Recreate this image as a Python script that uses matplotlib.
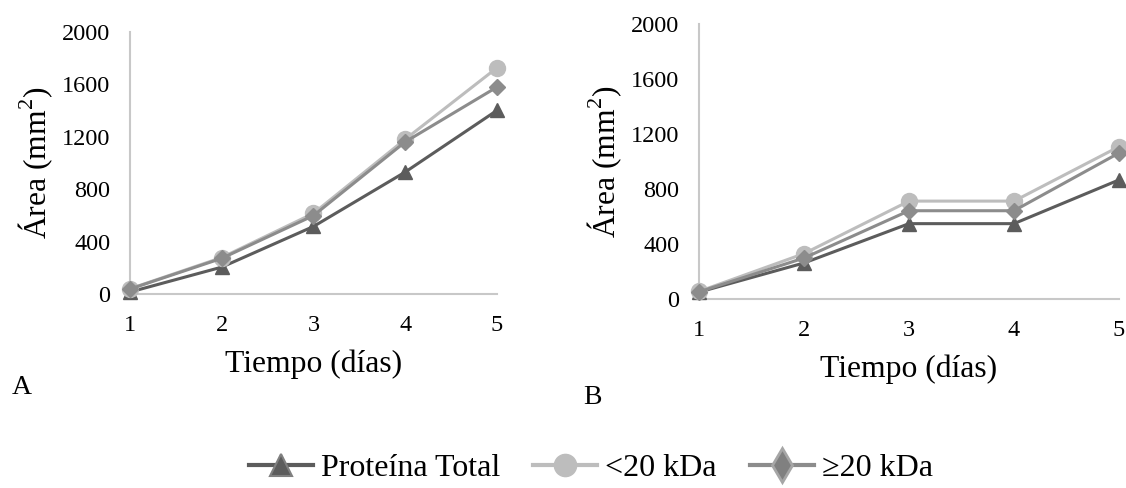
import matplotlib
matplotlib.use("Agg")
import matplotlib.pyplot as plt
from matplotlib.lines import Line2D

plt.rcParams['font.family'] = ['Liberation Serif', 'DejaVu Serif']
plt.rcParams['mathtext.fontset'] = 'custom'
plt.rcParams['mathtext.rm'] = 'Liberation Serif'

days = [1, 2, 3, 4, 5]
yticks = [0, 400, 800, 1200, 1600, 2000]

# Panel A
a_total = [15, 205, 515, 930, 1400]
a_lt20 = [40, 278, 615, 1180, 1725]
a_ge20 = [38, 272, 598, 1160, 1578]

# Panel B
b_total = [50, 262, 548, 548, 866]
b_lt20 = [55, 330, 712, 712, 1108]
b_ge20 = [52, 298, 642, 642, 1062]

labels = ["Proteína Total", "<20 kDa", "\u226520 kDa"]

c_total = "#5c5c5c"
c_lt20 = "#bdbdbd"
c_ge20 = "#8c8c8c"

W, H = 1126, 488
fig = plt.figure(figsize=(W / 100, H / 100), dpi=100)

def make_ax(x0, x1, y_top, y_bot):
    return fig.add_axes([x0 / W, (H - y_bot) / H, (x1 - x0) / W, (y_bot - y_top) / H])

axA = make_ax(130, 497, 31.7, 294)
axB = make_ax(699, 1119, 24, 299)

def style(ax, tot, lt, ge, ylpad):
    ax.plot(days, tot, color=c_total, lw=2.2, marker='^', ms=10,
            markerfacecolor=c_total, markeredgecolor=c_total, clip_on=False, zorder=3)
    ax.plot(days, lt, color=c_lt20, lw=2.2, marker='o', ms=11.5,
            markerfacecolor=c_lt20, markeredgecolor=c_lt20, clip_on=False, zorder=4)
    ax.plot(days, ge, color=c_ge20, lw=2.2, marker='D', ms=8.5,
            markerfacecolor=c_ge20, markeredgecolor=c_ge20, clip_on=False, zorder=5)
    ax.set_xlim(1, 5)
    ax.set_ylim(0, 2000)
    ax.set_xticks(days)
    ax.set_yticks(yticks)
    for s in ['top', 'right']:
        ax.spines[s].set_visible(False)
    for s in ['left', 'bottom']:
        ax.spines[s].set_color('#c8c8c8')
        ax.spines[s].set_linewidth(1.5)
    ax.tick_params(axis='both', length=0, labelsize=17.5)
    ax.tick_params(axis='y', pad=14)
    ax.tick_params(axis='x', pad=15)
    ax.set_xlabel("Tiempo (días)", fontsize=22.8, labelpad=10)
    ax.set_ylabel("Área (mm$^\\mathregular{2}$)", fontsize=22.8, labelpad=ylpad)
    ax.patch.set_alpha(0)

style(axA, a_total, a_lt20, a_ge20, 5)
style(axB, b_total, b_lt20, b_ge20, 5)

fig.text(22 / W, 1 - 388 / H, "A", fontsize=20, ha='center', va='center')
fig.text(592 / W, 1 - 397 / H, "B", fontsize=20, ha='center', va='center')

handles = [
    Line2D([], [], color=c_total, lw=3, marker='^', ms=16,
           markerfacecolor=c_total, markeredgecolor='#808080', markeredgewidth=1.5),
    Line2D([], [], color=c_lt20, lw=3, marker='o', ms=16,
           markerfacecolor=c_lt20, markeredgecolor=c_lt20),
    Line2D([], [], color=c_ge20, lw=3, marker='d', ms=17,
           markerfacecolor='#808080', markeredgecolor='#a6a6a6', markeredgewidth=2),
]
fig.legend(handles, labels, loc='center', bbox_to_anchor=(591 / W, 1 - 468 / H),
           ncol=3, frameon=False, fontsize=23, handlelength=2.0,
           handletextpad=0.25, columnspacing=1.05, borderaxespad=0, borderpad=0)

fig.savefig("out.png", dpi=100)
